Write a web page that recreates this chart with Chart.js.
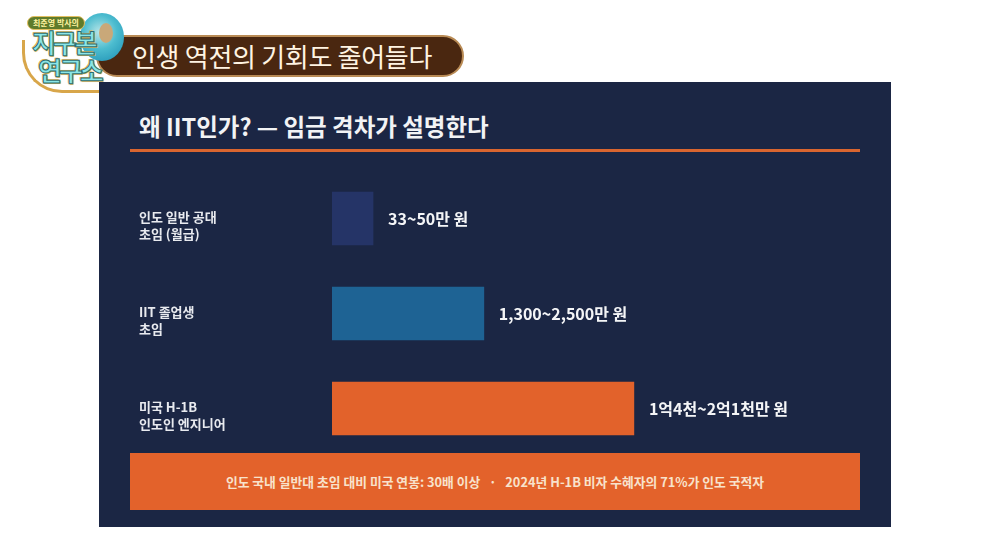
<!DOCTYPE html>
<html>
<head>
<meta charset="utf-8">
<title>왜 IIT인가?</title>
<script src="https://cdn.jsdelivr.net/npm/chart.js"></script>
<style>
    body {
        margin: 0;
        background: #ffffff;
        font-family: "Noto Sans CJK KR", "Noto Sans", sans-serif;
        width: 990px;
        height: 557px;
        position: relative;
        overflow: hidden;
    }

    /* top banner */
    .banner {
        position: absolute;
        left: 96px; top: 35px;
        width: 364px; height: 38px;
        background: #4a2710;
        border: 2px solid #b98b55;
        border-radius: 21px;
    }
    .banner span {
        position: absolute;
        left: 34px; top: 0px;
        font-size: 26px;
        line-height: 37px;
        color: #fff4e2;
        letter-spacing: -0.3px;
    }
    .globe {
        position: absolute;
        left: 80px; top: 13px;
        width: 44px; height: 48px;
        border-radius: 50%;
        background: radial-gradient(circle at 45% 40%, #b9e6e8 0%, #4cbccf 45%, #1a8db2 100%);
    }
    .globe::after {
        content: "";
        position: absolute;
        left: 19px; top: 10px;
        width: 14px; height: 20px;
        border-radius: 50%;
        background: #c9a879;
    }
    .arc {
        position: absolute;
        left: 22px; top: 40px;
        width: 90px; height: 50px;
        border-left: 3px solid #d8a64a;
        border-bottom: 3px solid #d8a64a;
        border-radius: 0 0 0 40px;
    }
    .pill {
        position: absolute;
        left: 27px; top: 16px;
        padding: 0 5px;
        height: 12px;
        font-size: 8px;
        line-height: 12px;
        font-weight: bold;
        color: #fff3a0;
        background: #5f7b2b;
        border: 1px solid #e3c060;
        border-radius: 7px;
    }
    .logo-text {
        position: absolute;
        font-size: 26px;
        font-weight: bold;
        line-height: 28px;
        color: #8ae6e6;
        -webkit-text-stroke: 1px #2c6d74;
        text-shadow: 0 0 2px #e6b850, 1px 1px 0 #e6b850, -1px -1px 0 #e6b850;
        letter-spacing: -3px;
    }

    /* slide */
    .slide {
        position: absolute;
        left: 99px; top: 82px;
        width: 792px; height: 445px;
        background: #1b2644;
    }
    .title {
        position: absolute;
        left: 40px; top: 28px;
        font-size: 23.5px;
        font-weight: bold;
        color: #f2f3f5;
        line-height: 32px;
    }
    .rule {
        position: absolute;
        left: 31px; top: 67px;
        width: 730px; height: 3px;
        background: #d9652f;
    }
    .note {
        position: absolute;
        left: 31px; top: 371px;
        width: 730px; height: 57px;
        background: #e3622b;
        color: #f8e2cc;
        font-size: 12.8px;
        font-weight: bold;
        line-height: 57px;
        text-align: center;
    }
    .chart-box {
        position: absolute;
        left: 139px; top: 171px;
        width: 676px; height: 285px;
    }
</style>
</head>
<body>
    <div class="banner"><span>인생 역전의 기회도 줄어들다</span></div>
    <div class="arc"></div>
    <div class="globe"></div>
    <div class="pill">최준영 박사의</div>
    <div class="logo-text" style="left:32px; top:28px;">지구본</div>
    <div class="logo-text" style="left:38px; top:56px;">연구소</div>

    <div class="slide">
        <div class="title">왜 IIT인가? — 임금 격차가 설명한다</div>
        <div class="rule"></div>
        <div class="note">인도 국내 일반대 초임 대비 미국 연봉: 30배 이상 &nbsp; · &nbsp; 2024년 H-1B 비자 수혜자의 71%가 인도 국적자</div>
    </div>

    <div class="chart-box">
        <canvas id="wageChart"></canvas>
    </div>

    <script>
        // categories (two-line labels)
        const categories = [
            ['인도 일반 공대', '초임 (월급)'],
            ['IIT 졸업생', '초임'],
            ['미국 H-1B', '인도인 엔지니어']
        ];
        // relative bar length (longest = 100)
        const barValues = [13.6, 50.3, 100];
        const valueLabels = ['33~50만 원', '1,300~2,500만 원', '1억4천~2억1천만 원'];

        // draws the wage text to the right of each bar
        const valueLabelPlugin = {
            id: 'valueLabels',
            afterDatasetsDraw(chart) {
                const ctx = chart.ctx;
                const meta = chart.getDatasetMeta(0);
                ctx.save();
                ctx.fillStyle = '#f4f5f7';
                ctx.font = 'bold 16px "Noto Sans CJK KR"';
                ctx.textBaseline = 'middle';
                ctx.textAlign = 'left';
                meta.data.forEach((bar, i) => {
                    ctx.fillText(valueLabels[i], bar.x + 15, bar.y);
                });
                ctx.restore();
            }
        };

        new Chart(document.getElementById('wageChart'), {
            type: 'bar',
            data: {
                labels: categories,
                datasets: [{
                    data: barValues,
                    backgroundColor: ['#253467', '#1e6394', '#e2622b'],
                    barThickness: 53
                }]
            },
            options: {
                indexAxis: 'y',
                responsive: true,
                maintainAspectRatio: false,
                animation: false,
                layout: { padding: 0 },
                plugins: {
                    legend: { display: false },
                    tooltip: { enabled: false }
                },
                scales: {
                    x: {
                        display: false,
                        min: 0,
                        max: 160
                    },
                    y: {
                        grid: { display: false },
                        border: { display: false },
                        afterFit(scale) {
                            scale.width = 193;
                            scale.paddingTop = 0;
                            scale.paddingBottom = 0;
                        },
                        ticks: {
                            crossAlign: 'far',
                            padding: 0,
                            labelOffset: 7,
                            color: '#e8eaef',
                            font: { family: 'Noto Sans CJK KR', size: 13, weight: 'bold', lineHeight: 1.25 }
                        }
                    }
                }
            },
            plugins: [valueLabelPlugin]
        });
    </script>
</body>
</html>
